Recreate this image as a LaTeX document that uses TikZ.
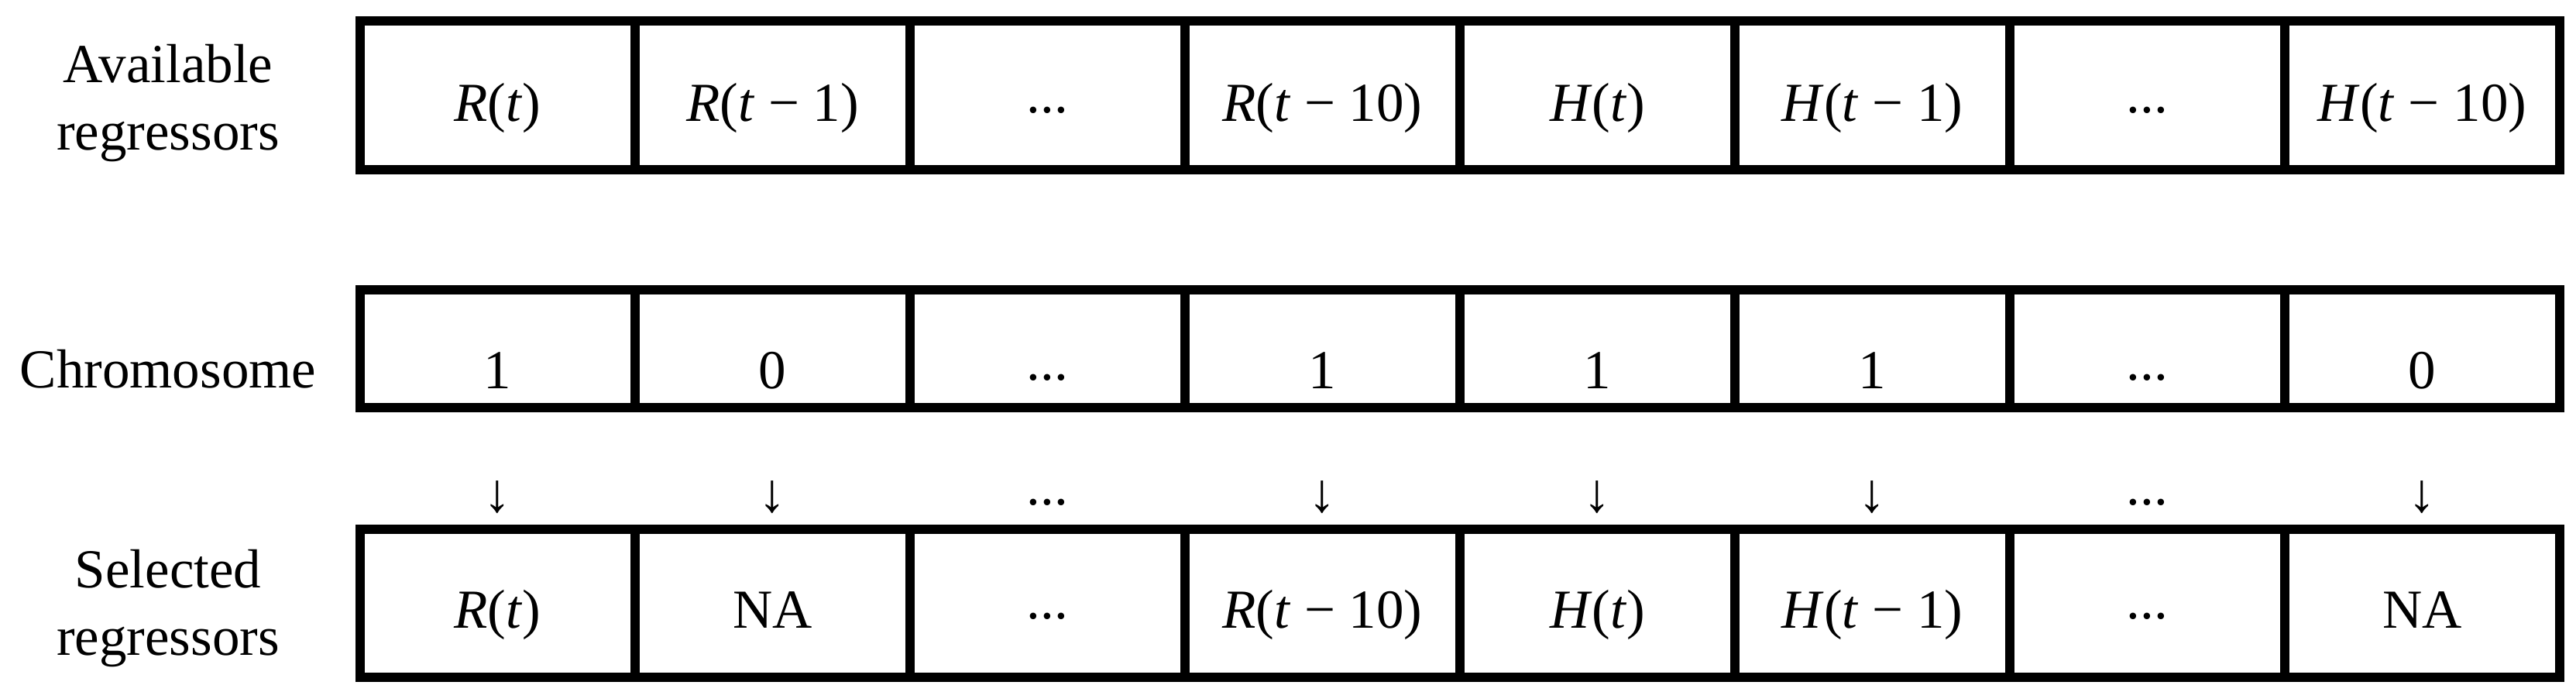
\documentclass[tikz,border=0pt]{standalone}
\usepackage{fontspec}
\setmainfont{Liberation Serif}
\usetikzlibrary{positioning}
\newcommand{\middots}{\raisebox{0.16em}{...}}

\begin{document}
\begin{tikzpicture}[
  every node/.style={font=\fontsize{10.1}{12.4}\selectfont, inner sep=0pt, outer sep=0pt},
  cell/.style={draw, line width=1.7pt, minimum width=1.775cm},
  availcell/.style={cell, minimum height=0.96cm, text height=0.34cm, text depth=0cm},
  chromcell/.style={cell, minimum height=0.76cm, text height=0.52cm, text depth=0cm},
  selcell/.style={cell, minimum height=0.955cm, text height=0.315cm, text depth=0cm},
  rowlabel/.style={align=center}
]
  \useasboundingbox (0,0) rectangle (16.63,-4.51);

  % Available regressors
  \node (av1) [availcell] at (3.2125,-0.615) {\textit{R}(\textit{t})};
  \node (av2) [availcell, right=0pt of av1] {\textit{R}(\textit{t} − 1)};
  \node (av3) [availcell, right=0pt of av2] {\middots};
  \node (av4) [availcell, right=0pt of av3] {\textit{R}(\textit{t} − 10)};
  \node (av5) [availcell, right=0pt of av4] {\textit{H}(\textit{t})};
  \node (av6) [availcell, right=0pt of av5] {\textit{H}(\textit{t} − 1)};
  \node (av7) [availcell, right=0pt of av6] {\middots};
  \node (av8) [availcell, right=0pt of av7] {\textit{H}(\textit{t} − 10)};

  % Chromosome
  \node (ch1) [chromcell, below=0.775cm of av1] {1};
  \node (ch2) [chromcell, right=0pt of ch1] {0};
  \node (ch3) [chromcell, right=0pt of ch2] {\middots};
  \node (ch4) [chromcell, right=0pt of ch3] {1};
  \node (ch5) [chromcell, right=0pt of ch4] {1};
  \node (ch6) [chromcell, right=0pt of ch5] {1};
  \node (ch7) [chromcell, right=0pt of ch6] {\middots};
  \node (ch8) [chromcell, right=0pt of ch7] {0};

  % Selected regressors
  \node (se1) [selcell, below=0.785cm of ch1] {\textit{R}(\textit{t})};
  \node (se2) [selcell, right=0pt of se1] {NA};
  \node (se3) [selcell, right=0pt of se2] {\middots};
  \node (se4) [selcell, right=0pt of se3] {\textit{R}(\textit{t} − 10)};
  \node (se5) [selcell, right=0pt of se4] {\textit{H}(\textit{t})};
  \node (se6) [selcell, right=0pt of se5] {\textit{H}(\textit{t} − 1)};
  \node (se7) [selcell, right=0pt of se6] {\middots};
  \node (se8) [selcell, right=0pt of se7] {NA};

  % Arrows between the rows
  \node (ar1) [above=0.1cm of se1] {↓};
  \node (ar2) [above=0.1cm of se2] {↓};
  \node (ar3) [above=0.1cm of se3] {\middots};
  \node (ar4) [above=0.1cm of se4] {↓};
  \node (ar5) [above=0.1cm of se5] {↓};
  \node (ar6) [above=0.1cm of se6] {↓};
  \node (ar7) [above=0.1cm of se7] {\middots};
  \node (ar8) [above=0.1cm of se8] {↓};

  % Row labels
  \node (lavail) [rowlabel] at (1.085,-0.665) {Available\\regressors};
  \node (lchrom) [rowlabel] at (1.085,-2.38) {Chromosome};
  \node (lsel) [rowlabel] at (1.085,-3.925) {Selected\\regressors};
\end{tikzpicture}
\end{document}
